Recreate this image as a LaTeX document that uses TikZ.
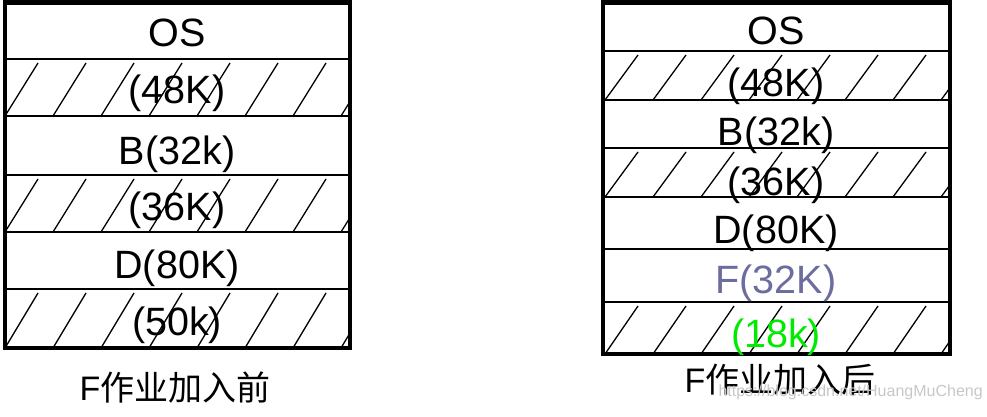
\documentclass[tikz,border=0pt]{standalone}
\usepackage{fontspec}
\setmainfont{Liberation Sans}
\newfontfamily\cjk{Noto Sans CJK SC}
\definecolor{fblue}{RGB}{108,108,158}
\definecolor{fgreen}{RGB}{0,235,0}

\begin{document}
\begin{tikzpicture}[x=1pt,y=-1pt,
  lbl/.style={anchor=base,font=\fontsize{39.5}{42}\selectfont},
  capt/.style={anchor=base,font=\fontsize{34}{38}\selectfont},
  hatchline/.style={line width=1.3pt},
  rowline/.style={line width=2pt},
  frame/.style={line width=4.5pt}]
\useasboundingbox (0,0) rectangle (987,417);

% left: before F
\foreach \a/\b in {59/116, 175/232, 289/348}
{
    \begin{scope}
    \clip (5,\a) rectangle (350,\b);
    \foreach \k in {0,...,7}
        \draw[hatchline] (5+48*\k,\b) -- (38+48*\k,\a+4);
    \end{scope}
}
\foreach \y in {59,116,175,232,289}
{
    \draw[rowline] (5,\y) -- (350,\y);
}
\draw[frame] (5,2.5) rectangle (350,348);

\foreach \n/\y/\t in {L1/47/OS, L2/103/{(48K)}, L3/164/{B(32k)}, L4/220/{(36K)}, L5/278/{D(80K)}, L6/335/{(50k)}}
{
    \node[lbl] (\n) at (177,\y){\t};
}
\node[capt] (capL) at (175,400){F{\cjk 作业加入前}};

% right: after F
\foreach \a/\b in {51/100, 148/197, 302/354}
{
    \begin{scope}
    \clip (603,\a) rectangle (950,\b);
    \foreach \k in {0,...,7}
        \draw[hatchline] (605+48*\k,\b) -- (638+48*\k,\a+4);
    \end{scope}
}
\foreach \y in {51,100,148,197,249,302}
{
    \draw[rowline] (603,\y) -- (950,\y);
}
\draw[frame] (603,2.5) rectangle (950,354);

\foreach \n/\y/\t in {R1/45/OS, R2/97/{(48K)}, R3/145/{B(32k)}, R4/195/{(36K)}, R5/243/{D(80K)}}
{
    \node[lbl] (\n) at (776,\y){\t};
}
\node[lbl,text=fblue] (R6) at (776,293){F(32K)};
\node[lbl,text=fgreen] (R7) at (776,347){(18k)};
\node[capt] (capR) at (780,392){F{\cjk 作业加入后}};

\node[anchor=base west,font=\fontsize{16}{18}\selectfont,text=black!22] (mark) at (715,396){https://blog.csdn.net/HuangMuCheng};

\end{tikzpicture}
\end{document}
